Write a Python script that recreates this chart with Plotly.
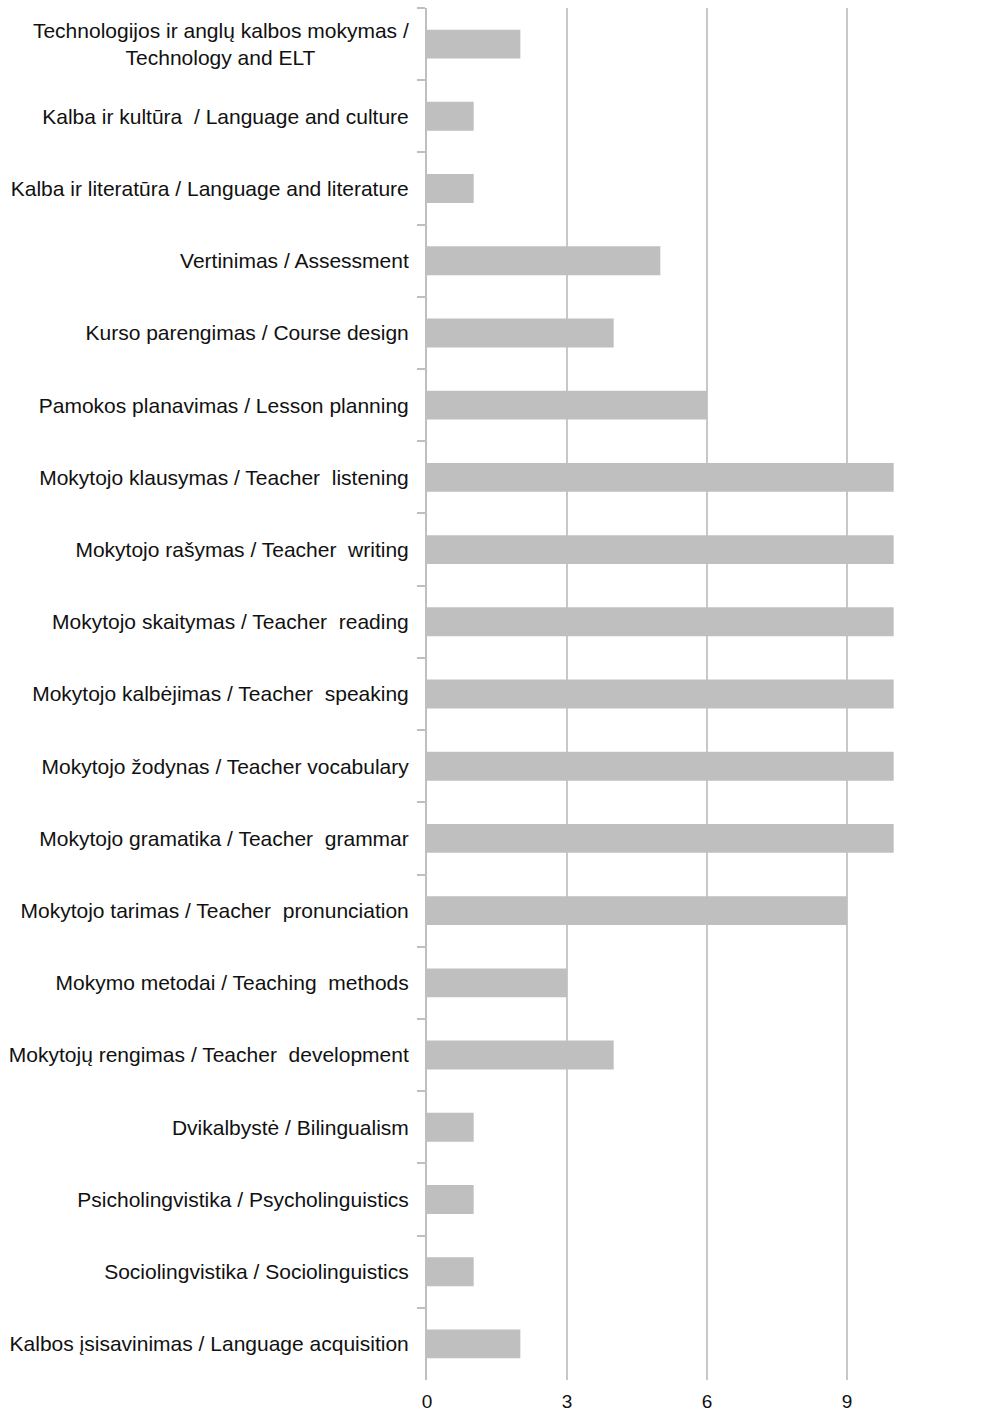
import plotly.graph_objects as go

categories = [
    "Technologijos ir anglų kalbos mokymas /<br>Technology and ELT" + "\u00a0" * 16,
    "Kalba ir kultūra  / Language and culture",
    "Kalba ir literatūra / Language and literature",
    "Vertinimas / Assessment",
    "Kurso parengimas / Course design",
    "Pamokos planavimas / Lesson planning",
    "Mokytojo klausymas / Teacher  listening",
    "Mokytojo rašymas / Teacher  writing",
    "Mokytojo skaitymas / Teacher  reading",
    "Mokytojo kalbėjimas / Teacher  speaking",
    "Mokytojo žodynas / Teacher vocabulary",
    "Mokytojo gramatika / Teacher  grammar",
    "Mokytojo tarimas / Teacher  pronunciation",
    "Mokymo metodai / Teaching  methods",
    "Mokytojų rengimas / Teacher  development",
    "Dvikalbystė / Bilingualism",
    "Psicholingvistika / Psycholinguistics",
    "Sociolingvistika / Sociolinguistics",
    "Kalbos įsisavinimas / Language acquisition",
]
values = [2, 1, 1, 5, 4, 6, 10, 10, 10, 10, 10, 10, 9, 3, 4, 1, 1, 1, 2]
x_ticks = [0, 3, 6, 9]

fig = go.Figure(go.Bar(
    x=values, y=categories, orientation="h",
    marker=dict(color="#bfbfbf", line=dict(width=0)),
    width=0.4,
))

fig.update_layout(
    width=990, height=1417,
    margin=dict(l=427, r=3, t=8, b=37, autoexpand=False),
    paper_bgcolor="white", plot_bgcolor="white",
    font=dict(family="Liberation Sans, Arial, sans-serif", size=21, color="#111111"),
    showlegend=False,
    bargap=0.6,
)
fig.update_xaxes(
    range=[0, 12], tickvals=x_ticks, ticktext=[str(v) for v in x_ticks],
    showgrid=True, gridcolor="#c8c8c8", gridwidth=2,
    zeroline=False, showline=False, ticks="",
    tickfont=dict(size=19), ticklabelstandoff=8,
)
fig.update_yaxes(
    autorange="reversed", type="category",
    showline=True, linecolor="#bfbfbf", linewidth=2,
    ticks="outside", ticklen=8, tickcolor="#bfbfbf", tickwidth=2,
    tickson="boundaries", showgrid=False, zeroline=False,
    ticklabelstandoff=12,
)

fig.write_html(
    "out.html",
    config={"displayModeBar": False},
    post_script="document.body.style.margin='0';document.body.style.overflow='hidden';",
)
